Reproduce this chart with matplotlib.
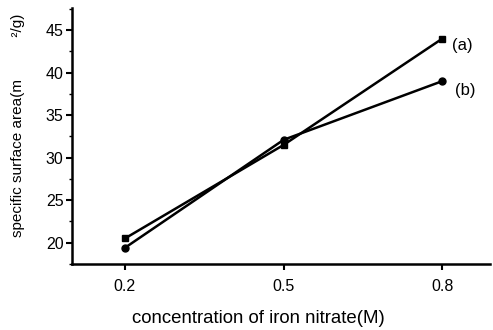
import matplotlib.pyplot as plt
from matplotlib.ticker import MultipleLocator

plt.rcParams['font.family'] = ['Liberation Sans', 'DejaVu Sans']

concentration = [0.2, 0.5, 0.8]
area_a = [20.5, 31.5, 44.0]
area_b = [19.4, 32.1, 39.0]
x_ticks = [0.2, 0.5, 0.8]
x_tick_labels = ['0.2', '0.5', '0.8']

fig = plt.figure(figsize=(4.93, 3.30), dpi=100)
ax = fig.add_axes([0.146, 0.2, 0.848, 0.776])

ax.plot(concentration, area_a, color='black', lw=1.8, marker='s', ms=5)
ax.plot(concentration, area_b, color='black', lw=1.8, marker='o', ms=5)

ax.annotate('(a)', (concentration[-1], area_a[-1]), xytext=(7, -5),
            textcoords='offset points', fontsize=12, va='center')
ax.annotate('(b)', (concentration[-1], area_b[-1]), xytext=(9, -7),
            textcoords='offset points', fontsize=12, va='center')

ax.set_xlim(0.1, 0.89)
ax.set_ylim(17.5, 47.6)
ax.set_xticks(x_ticks)
ax.set_xticklabels(x_tick_labels)
ax.yaxis.set_major_locator(MultipleLocator(5))
ax.yaxis.set_minor_locator(MultipleLocator(2.5))

for side in ('top', 'right'):
    ax.spines[side].set_visible(False)
for side in ('left', 'bottom'):
    ax.spines[side].set_linewidth(1.8)

ax.tick_params(which='major', direction='out', length=4, width=1.5, labelsize=11.5)
ax.tick_params(axis='y', which='major', pad=2)
ax.tick_params(axis='x', which='major', pad=7)
ax.tick_params(which='minor', direction='out', length=2, width=1)

ax.set_xlabel('concentration of iron nitrate(M)', fontsize=13.4, va='center')
ax.xaxis.set_label_coords(0.445, -0.211)
ax.set_ylabel('specific surface area(m          ²/g)', fontsize=11, va='center')
ax.yaxis.set_label_coords(-0.129, 0.543)

fig.savefig('out.png', dpi=100)
